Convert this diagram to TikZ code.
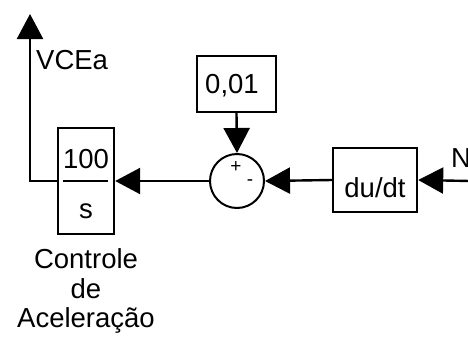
\documentclass[tikz,border=0pt]{standalone}
\usepackage{fontspec}
\setmainfont{Liberation Sans}
\usetikzlibrary{arrows.meta}
\tikzset{
  blk/.style={draw, line width=2.4pt, inner sep=0pt},
  sig/.style={line width=2.4pt, -{Triangle[length=25pt,width=26pt]}},
  lbl/.style={font=\fontsize{27.5}{30}\selectfont, inner sep=0pt},
  sgn/.style={font=\fontsize{19}{19}\selectfont, inner sep=0pt},
}

\begin{document}
\begin{tikzpicture}[x=1pt, y=-1pt]
        \useasboundingbox (0,0) rectangle (468,338);
        % blocks
        \node[blk, minimum width=56pt, minimum height=106pt] (integ) at (86,181) {};
        \node[blk, circle, minimum size=54pt, line width=2pt] (soma) at (237,181) {};
        \node[blk, minimum width=79pt, minimum height=56pt] (const) at (236.5,84) {};
        \node[blk, minimum width=84pt, minimum height=64pt] (deriv) at (375,180) {};
        \coordinate (vout) at (30,14);
        \coordinate (entra) at (470,181);
        % texts
        \draw[line width=2.4pt] (63,181) -- (108,181);
        \node[lbl, anchor=base] (num) at (86,168) {100};
        \node[lbl, anchor=base] (den) at (86,218) {s};
        \node[lbl, anchor=base] (cval) at (232,93) {0,01};
        \node[lbl, anchor=base] (dtxt) at (375,197) {du/dt};
        \node[sgn] (mais) at (236,167) {+};
        \node[sgn] (menos) at (250,183) {-};
        \node[lbl, anchor=base west] (vcea) at (36,69) {VCEa};
        \node[lbl, anchor=base west] (nin) at (451,167) {N};
        % name under the integrator
        \node[lbl, anchor=base] (nome1) at (86,268) {Controle};
        \node[lbl, anchor=base] (nome2) at (86,298) {de};
        \node[lbl, anchor=base] (nome3) at (86,327) {Aceleração};
        % signals
        \draw[sig] (entra) -- (deriv.east);
        \draw[sig] (deriv.west) -- (soma.east);
        \draw[sig] (const.south) -- (soma.north);
        \draw[sig] (soma.west) -- (integ.east);
        \draw[sig] (integ.west) -| (vout);
\end{tikzpicture}
\end{document}
